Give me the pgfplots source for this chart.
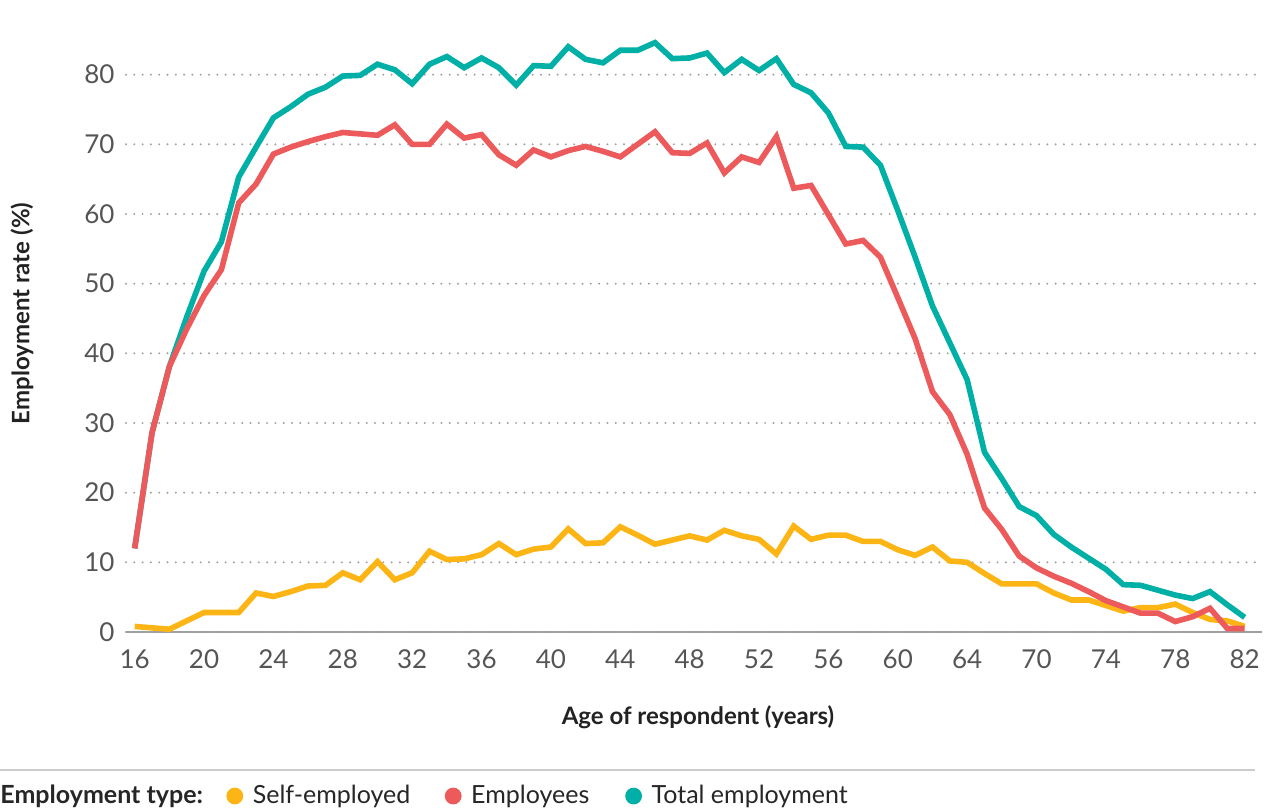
\documentclass[border=0pt]{standalone}
\usepackage{pgfplots}
\pgfplotsset{compat=1.18}
\usepackage{pgfplotstable}
\usepackage{fontspec}
\setmainfont{Lato}
\definecolor{cself}{HTML}{FDB515}
\definecolor{cemp}{HTML}{EC5A5B}
\definecolor{ctot}{HTML}{00AFA5}
\definecolor{tickgray}{HTML}{555555}
\definecolor{gridgray}{HTML}{A0A0A0}
\definecolor{titlegray}{HTML}{222222}

\pgfplotstableread{
i self emp tot
0 0.8 12.0 12.0
1 0.6 28.6 28.6
2 0.4 38.1 38.1
3 1.6 43.5 45.2
4 2.8 48.3 51.8
5 2.8 52.0 56.0
6 2.8 61.6 65.3
7 5.6 64.3 69.6
8 5.1 68.6 73.8
9 5.8 69.6 75.4
10 6.6 70.4 77.2
11 6.7 71.1 78.2
12 8.5 71.7 79.8
13 7.5 71.5 79.9
14 10.1 71.3 81.5
15 7.5 72.8 80.7
16 8.5 70.0 78.7
17 11.6 70.0 81.5
18 10.4 72.9 82.6
19 10.5 70.9 81.0
20 11.1 71.4 82.4
21 12.7 68.5 81.0
22 11.1 67.0 78.5
23 11.9 69.2 81.3
24 12.2 68.2 81.2
25 14.8 69.1 84.0
26 12.7 69.7 82.2
27 12.8 69.0 81.7
28 15.1 68.2 83.5
29 13.9 70.0 83.5
30 12.6 71.8 84.6
31 13.2 68.8 82.3
32 13.8 68.7 82.4
33 13.2 70.2 83.1
34 14.6 65.9 80.3
35 13.8 68.2 82.2
36 13.3 67.4 80.6
37 11.2 71.1 82.3
38 15.2 63.7 78.6
39 13.3 64.1 77.4
40 13.9 59.9 74.5
41 13.9 55.7 69.7
42 13.0 56.2 69.6
43 13.0 53.8 67.0
44 11.8 48.0 60.5
45 11.0 42.1 53.8
46 12.2 34.5 46.8
47 10.2 31.2 41.5
48 10.0 25.5 36.2
49 8.4 17.8 25.8
50 6.9 14.7 22.0
51 6.9 10.9 18.0
52 6.9 9.2 16.7
53 5.6 8.0 14.0
54 4.6 7.0 12.2
55 4.6 5.8 10.6
56 3.8 4.5 9.0
57 3.0 3.6 6.8
58 3.5 2.7 6.7
59 3.5 2.7 6.0
60 4.0 1.5 5.3
61 2.8 2.2 4.8
62 1.8 3.4 5.8
63 1.6 0.5 3.9
64 0.8 0.5 2.1
}\datatable

\begin{document}
\begin{tikzpicture}
\path[use as bounding box] (0,0) rectangle (638.5pt,404.5pt);
\begin{axis}[
  at={(63pt,88.5pt)}, anchor=south west,
  scale only axis, width=568pt, height=313.5pt,
  xmin=-0.5, xmax=65, ymin=0, ymax=90,
  xtick={0,4,...,64},
  xticklabels={16,20,24,28,32,36,40,44,48,52,56,60,64,70,74,78,82},
  ytick={0,10,...,80},
  axis x line*=bottom, axis y line*=left,
  x axis line style={draw=gridgray, line width=1.4pt},
  y axis line style={draw=none},
  major tick length=0pt, tick style={draw=none},
  ymajorgrids,
  major grid style={draw=gridgray, line width=1.1pt, dash pattern=on 0pt off 4.15pt, line cap=round},
  tick label style={font=\fontsize{13}{15}\selectfont, text=tickgray},
  /pgf/number format/assume math mode=true,
  xticklabel style={yshift=-5.2pt},
  yticklabel style={xshift=-2.2pt},
  xlabel={Age of respondent (years)},
  ylabel={Employment rate (\%)},
  every axis x label/.style={at={(axis description cs:0.5035,-0.1356)}, anchor=center, font=\fontsize{12}{14}\selectfont\bfseries, text=titlegray},
  every axis y label/.style={at={(axis description cs:-0.0915,0.508)}, anchor=center, rotate=90, font=\fontsize{12}{14}\selectfont\bfseries, text=titlegray},
  legend style={at={(axis description cs:-0.1109,-0.2616)}, anchor=west, draw=none, fill=none,
    inner xsep=0pt, inner ysep=0pt, /tikz/column sep=0pt,
    cells={anchor=west}, nodes={inner sep=0pt},
    font=\fontsize{12.5}{15}\selectfont, text=black!85},
  legend columns=-1,
  legend image code/.code={\path[draw=none, fill=none] (0pt,0pt) -- (13pt,0pt); \fill[#1, draw=none] (4pt,0pt) circle (4.2pt);},
]
\addplot[cself, line width=2.8pt, forget plot] table[x=i, y=self] {\datatable};
\addplot[ctot, line width=2.8pt, forget plot] table[x=i, y=tot] {\datatable};
\addplot[cemp, line width=2.8pt, forget plot] table[x=i, y=emp] {\datatable};
\addlegendimage{empty legend}
\addlegendentry{\makebox[113pt][l]{\textbf{Employment type:}}}
\addlegendimage{cself}
\addlegendentry{\makebox[96pt][l]{Self-employed}}
\addlegendimage{cemp}
\addlegendentry{\makebox[77pt][l]{Employees}}
\addlegendimage{ctot}
\addlegendentry{Total employment}
\end{axis}
\draw[black!20, line width=1pt] (0pt,19.5pt) -- (627.5pt,19.5pt);
\end{tikzpicture}
\end{document}
